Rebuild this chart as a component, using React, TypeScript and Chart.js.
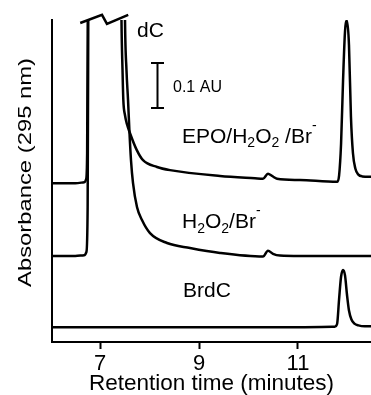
import React, { useEffect, useRef } from "react";
import { Chart, registerables } from "chart.js";

Chart.register(...registerables);

const FONT = '"Liberation Sans", Arial, Helvetica, sans-serif';

// Retention time (minutes) / absorbance (AU) for each trace
const epoTimes = [6.03, 6.5, 6.68, 6.72, 6.74, 6.755, 6.78, 7.2, 7.4, 7.434, 7.455, 7.471, 7.505, 7.545, 7.606, 7.741, 7.869, 8.152, 8.414, 9.424, 10.13, 10.293, 10.394, 10.475, 10.576, 11.04, 11.79, 11.83, 11.87, 11.91, 11.95, 11.99, 12.03, 12.07, 12.11, 12.16, 12.22, 12.3, 12.48];
const epoAbs = [0.353, 0.353, 0.355, 0.362, 0.42, 0.8, 1.6, 1.6, 1.2, 0.716, 0.604, 0.538, 0.504, 0.484, 0.464, 0.427, 0.404, 0.389, 0.382, 0.369, 0.364, 0.363, 0.374, 0.369, 0.363, 0.36, 0.356, 0.37, 0.44, 0.58, 0.69, 0.714, 0.66, 0.5, 0.42, 0.385, 0.372, 0.368, 0.367];

const h2o2Times = [6.03, 6.5, 6.68, 6.725, 6.75, 6.765, 6.79, 7.2, 7.47, 7.505, 7.535, 7.566, 7.596, 7.626, 7.667, 7.747, 7.848, 8.01, 8.354, 8.818, 9.424, 10.293, 10.394, 10.495, 10.636, 11.04, 12.48];
const h2o2Abs = [0.191, 0.191, 0.193, 0.2, 0.3, 0.8, 1.6, 1.6, 1.2, 0.716, 0.604, 0.538, 0.464, 0.404, 0.353, 0.3, 0.271, 0.242, 0.22, 0.209, 0.198, 0.19, 0.203, 0.196, 0.192, 0.191, 0.191];

const brdcTimes = [6.03, 9, 11, 11.74, 11.79, 11.83, 11.87, 11.91, 11.95, 11.99, 12.03, 12.08, 12.14, 12.22, 12.35, 12.48];
const brdcAbs = [0.033, 0.033, 0.033, 0.034, 0.04, 0.095, 0.145, 0.16, 0.148, 0.105, 0.07, 0.05, 0.041, 0.037, 0.035, 0.035];

// axis-break zig-zag over the truncated dC peak
const breakTimes = [6.6, 7.04, 7.14, 7.57];
const breakAbs = [0.709, 0.727, 0.707, 0.727];

const xTicks = [7, 9, 11];
const xRange = [6.03, 12.475];
const yRange = [0, 0.7156];

// 0.1 AU scale bar (time, from, to)
const scaleBarTime = 8.152;
const scaleBarFrom = 0.52;
const scaleBarTo = 0.62;

type Part = { s: string; k: "n" | "sub" | "sup" };
type Label = { t: number; a: number; size: number; parts: Part[] };

const labels: Label[] = [
  { t: 7.747, a: 0.6778, size: 21, parts: [{ s: "dC", k: "n" }] },
  { t: 8.475, a: 0.5556, size: 16, parts: [{ s: "0.1 AU", k: "n" }] },
  {
    t: 8.657, a: 0.4433, size: 21,
    parts: [
      { s: "EPO/H", k: "n" }, { s: "2", k: "sub" }, { s: "O", k: "n" }, { s: "2", k: "sub" },
      { s: " /Br", k: "n" }, { s: "-", k: "sup" },
    ],
  },
  {
    t: 8.657, a: 0.2533, size: 21,
    parts: [
      { s: "H", k: "n" }, { s: "2", k: "sub" }, { s: "O", k: "n" }, { s: "2", k: "sub" },
      { s: "/Br", k: "n" }, { s: "-", k: "sup" },
    ],
  },
  { t: 8.677, a: 0.1, size: 21, parts: [{ s: "BrdC", k: "n" }] },
];

const yTitle = "Absorbance (295 nm)";
const xTitle = "Retention time (minutes)";

const zip = (ts: number[], vs: number[]) => ts.map((t, i) => ({ x: t, y: vs[i] }));

const annotationPlugin = {
  id: "annotations",
  afterDraw(chart: any) {
    const { ctx, chartArea } = chart;
    const xs = chart.scales.x;
    const ys = chart.scales.y;
    ctx.save();
    ctx.fillStyle = "#000";
    ctx.strokeStyle = "#000";
    ctx.textBaseline = "alphabetic";
    ctx.textAlign = "left";
    for (const lab of labels) {
      let px = xs.getPixelForValue(lab.t);
      const py = ys.getPixelForValue(lab.a);
      for (const p of lab.parts) {
        const size = p.k === "n" ? lab.size : Math.round(lab.size * 0.66);
        ctx.font = `${size}px ${FONT}`;
        const dy = p.k === "sub" ? lab.size * 0.22 : p.k === "sup" ? -lab.size * 0.6 : 0;
        ctx.fillText(p.s, px, py + dy);
        px += ctx.measureText(p.s).width;
      }
    }
    // scale bar
    const bx = Math.round(xs.getPixelForValue(scaleBarTime)) + 0.5;
    const by1 = ys.getPixelForValue(scaleBarFrom);
    const by2 = ys.getPixelForValue(scaleBarTo);
    ctx.lineWidth = 2;
    ctx.beginPath();
    ctx.moveTo(bx, by1);
    ctx.lineTo(bx, by2);
    ctx.moveTo(bx - 6.5, by1);
    ctx.lineTo(bx + 6.5, by1);
    ctx.moveTo(bx - 6.5, by2);
    ctx.lineTo(bx + 6.5, by2);
    ctx.stroke();
    // y axis title (slightly condensed type, as in the original figure)
    ctx.font = `19px ${FONT}`;
    ctx.textAlign = "center";
    ctx.textBaseline = "middle";
    const w = ctx.measureText(yTitle).width;
    ctx.translate(chartArea.left - 26, (chartArea.top + chartArea.bottom) / 2 - 8.5);
    ctx.rotate(-Math.PI / 2);
    ctx.scale(229 / w, 1);
    ctx.fillText(yTitle, 0, 0);
    ctx.restore();
  },
};

export default function App() {
  const ref = useRef<HTMLCanvasElement | null>(null);
  useEffect(() => {
    if (!ref.current) return;
    const line = (data: any[], extra: any = {}) => ({
      data,
      borderColor: "#000",
      borderWidth: 2.5,
      pointRadius: 0,
      fill: false,
      cubicInterpolationMode: "monotone",
      ...extra,
    });
    const chart = new Chart(ref.current, {
      type: "line",
      data: {
        datasets: [
          line(zip(epoTimes, epoAbs)),
          line(zip(h2o2Times, h2o2Abs)),
          line(zip(brdcTimes, brdcAbs)),
          line(zip(breakTimes, breakAbs), { cubicInterpolationMode: "default", tension: 0, clip: false }),
        ] as any,
      },
      options: {
        animation: false,
        responsive: false,
        events: [],
        layout: { padding: { top: 20, left: 52, right: 0, bottom: 0 } },
        plugins: { legend: { display: false }, tooltip: { enabled: false } },
        scales: {
          x: {
            type: "linear",
            min: xRange[0],
            max: xRange[1],
            afterBuildTicks: (scale: any) => {
              scale.ticks = xTicks.map((v) => ({ value: v }));
            },
            afterFit: (scale: any) => {
              scale.height = 53;
            },
            ticks: {
              color: "#000",
              padding: 4,
              font: { family: FONT, size: 22, lineHeight: 1 },
              callback: (v: any) => String(v),
            },
            grid: {
              display: true,
              drawOnChartArea: false,
              drawTicks: true,
              tickLength: 7,
              tickWidth: 2,
              color: "#000",
            },
            border: { display: true, color: "#000", width: 2 },
            title: {
              display: true,
              text: xTitle,
              color: "#000",
              font: { family: FONT, size: 22.5, lineHeight: 0.8 },
              padding: { top: 0, bottom: 2 },
            },
          },
          y: {
            type: "linear",
            min: yRange[0],
            max: yRange[1],
            ticks: { display: false },
            grid: { display: false, drawTicks: false },
            border: { display: true, color: "#000", width: 2 },
          },
        },
      },
      plugins: [annotationPlugin],
    } as any);
    return () => chart.destroy();
  }, []);
  return (
    <div style={{ position: "fixed", left: 0, top: 0, width: 371, height: 395, background: "#fff" }}>
      <canvas ref={ref} width={371} height={395} />
    </div>
  );
}
